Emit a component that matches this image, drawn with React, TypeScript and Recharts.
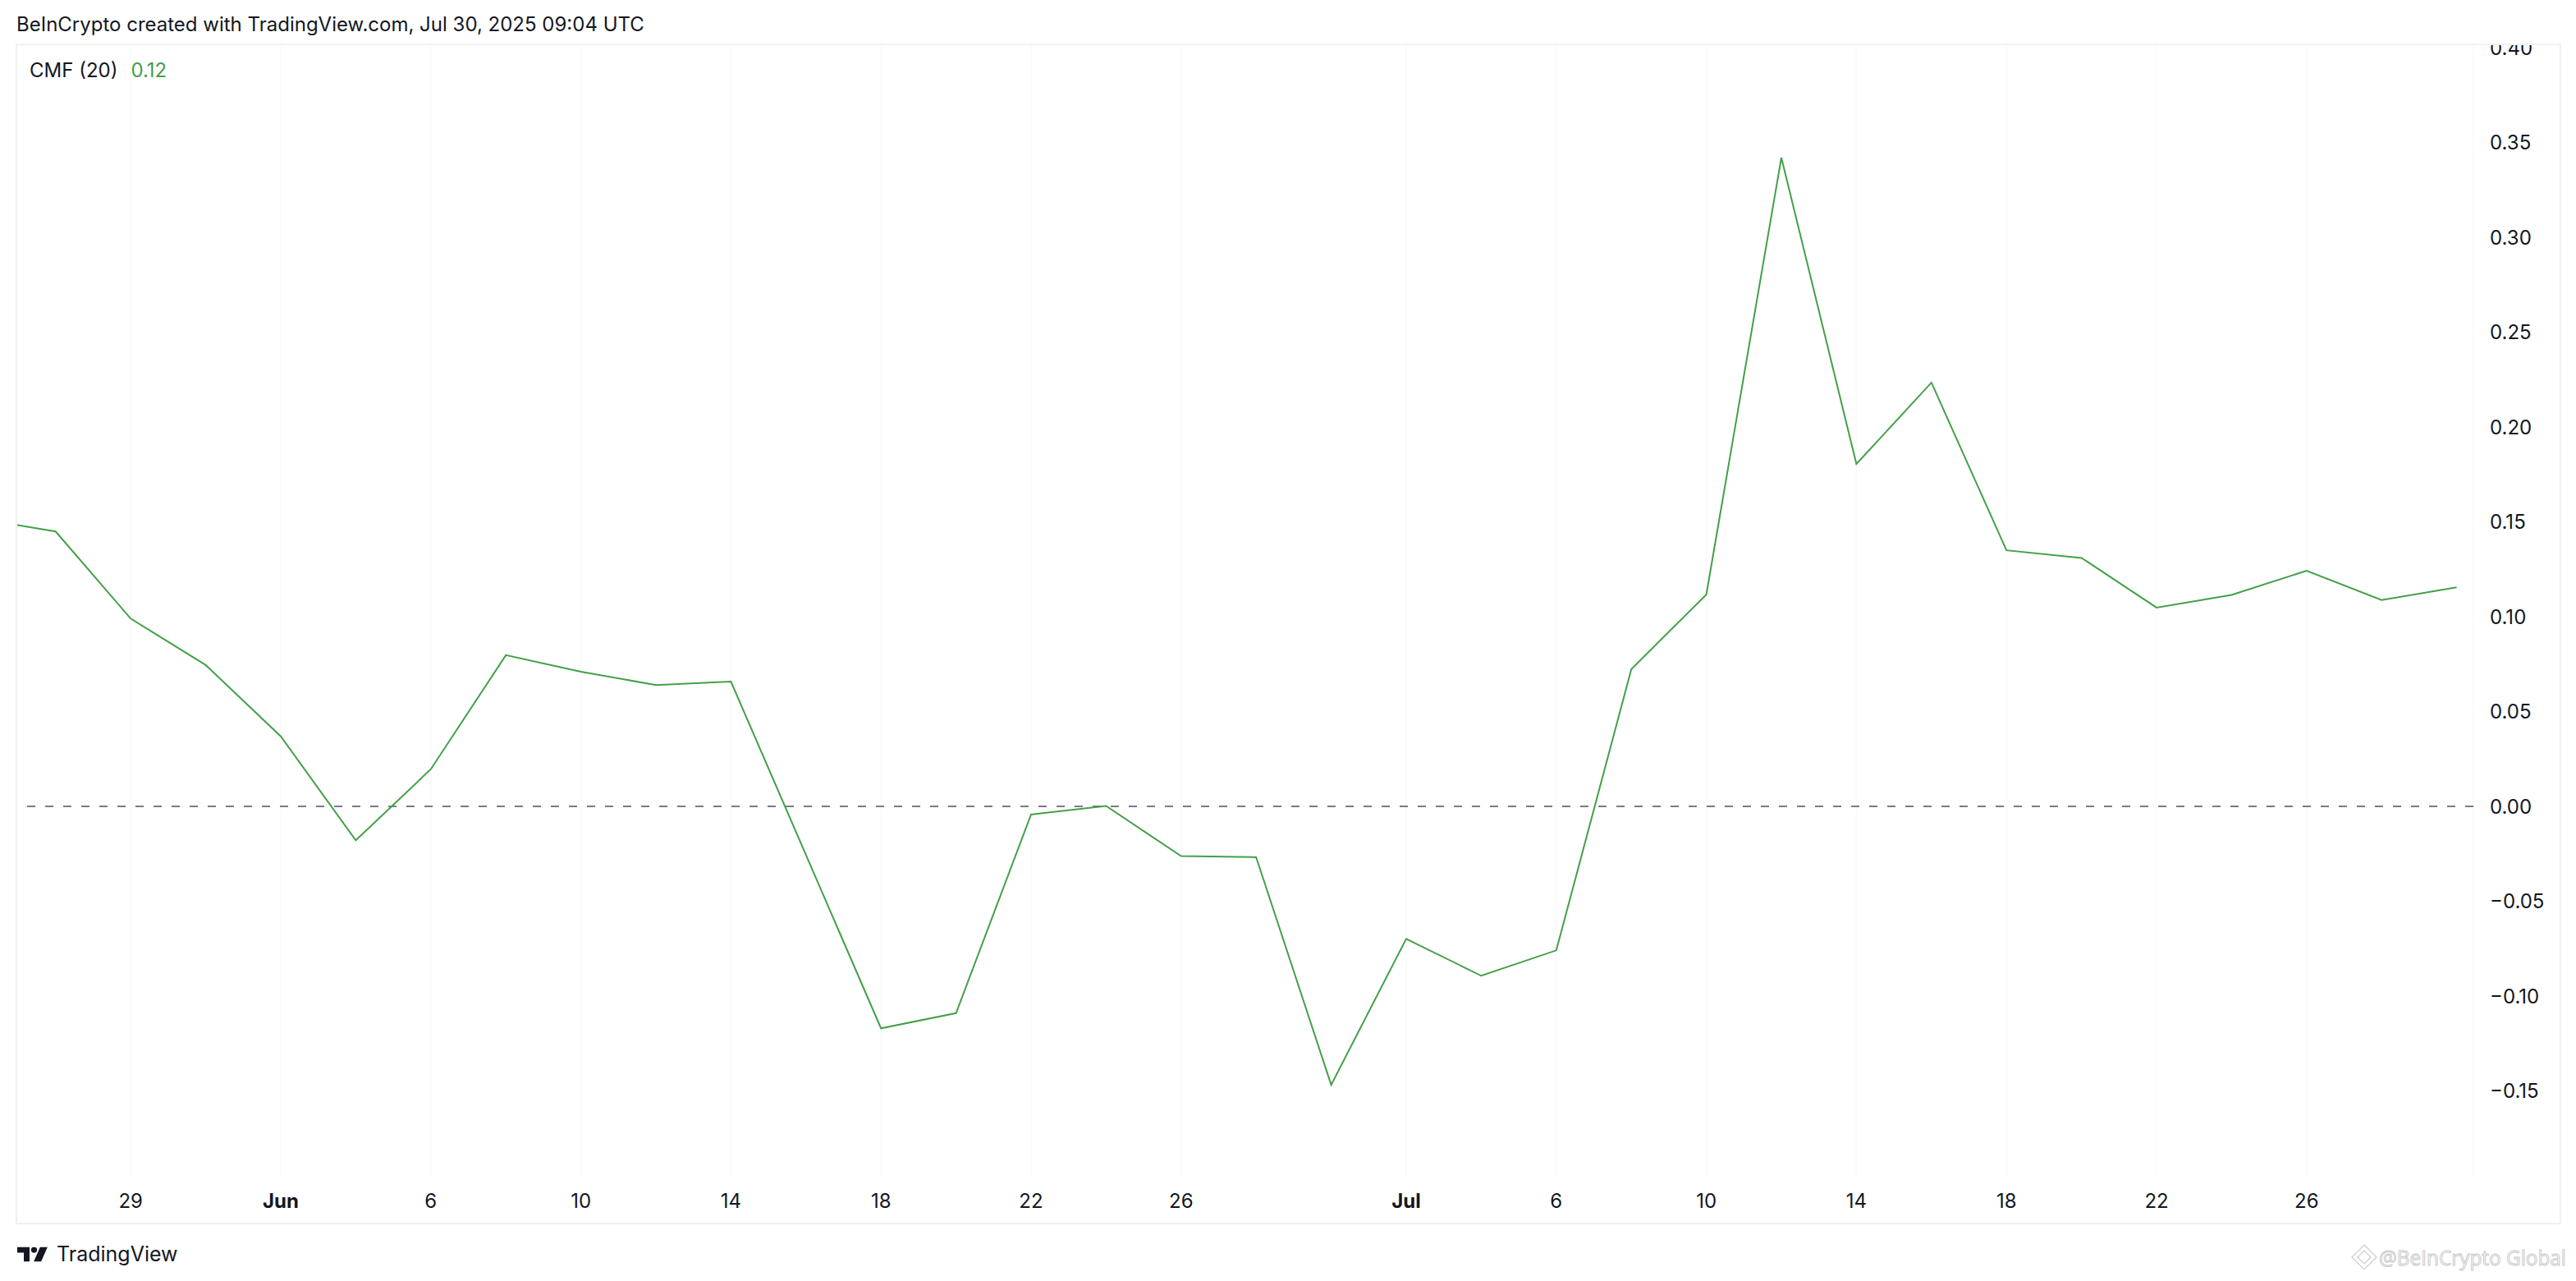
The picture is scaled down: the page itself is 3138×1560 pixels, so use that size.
import React from 'react';
import { LineChart, Line, XAxis, YAxis, ReferenceLine, CartesianGrid } from 'recharts';

// ---- data (2-day bars) ----
const barDates = [
  '2025-05-25', '2025-05-27', '2025-05-29', '2025-05-31', '2025-06-02', '2025-06-04',
  '2025-06-06', '2025-06-08', '2025-06-10', '2025-06-12', '2025-06-14', '2025-06-16',
  '2025-06-18', '2025-06-20', '2025-06-22', '2025-06-24', '2025-06-26', '2025-06-28',
  '2025-06-30', '2025-07-02', '2025-07-04', '2025-07-06', '2025-07-08', '2025-07-10',
  '2025-07-12', '2025-07-14', '2025-07-16', '2025-07-18', '2025-07-20', '2025-07-22',
  '2025-07-24', '2025-07-26', '2025-07-28', '2025-07-30',
];
const cmfValues = [
  0.1515, 0.1449, 0.099, 0.0745, 0.0369, -0.0179,
  0.0196, 0.0797, 0.071, 0.064, 0.0658, -0.0256,
  -0.117, -0.109, -0.0043, 0.0002, -0.0262, -0.0268,
  -0.1468, -0.0698, -0.0893, -0.0759, 0.0723, 0.1117,
  0.342, 0.1805, 0.2234, 0.135, 0.131, 0.1048,
  0.1115, 0.1242, 0.1088, 0.1155,
];
const xTickDates = [
  '2025-05-29', '2025-06-02', '2025-06-06', '2025-06-10', '2025-06-14', '2025-06-18',
  '2025-06-22', '2025-06-26', '2025-07-02', '2025-07-06', '2025-07-10', '2025-07-14',
  '2025-07-18', '2025-07-22', '2025-07-26',
];
const xTickLabels = ['29', 'Jun', '6', '10', '14', '18', '22', '26', 'Jul', '6', '10', '14', '18', '22', '26'];
const boldTickLabels = ['Jun', 'Jul'];
const yTicks = [-0.15, -0.1, -0.05, 0, 0.05, 0.1, 0.15, 0.2, 0.25, 0.3, 0.35, 0.4];

const headerText = 'BeInCrypto created with TradingView.com, Jul 30, 2025 09:04 UTC';
const seriesName = 'CMF (20)';
const lastValueLabel = '0.12';
const watermarkText = '@BeInCrypto Global';

// ---- helpers ----
const BASE = Date.UTC(2025, 4, 25);
const toDay = (s: string) => {
  const [y, m, d] = s.split('-').map(Number);
  return Math.round((Date.UTC(y, m - 1, d) - BASE) / 86400000);
};
const data = barDates.map((d, i) => ({ day: toDay(d), cmf: cmfValues[i] }));
const xTicks = xTickDates.map(toDay);
const labelFor = (day: number) => {
  const i = xTicks.indexOf(day);
  return i >= 0 ? xTickLabels[i] : '';
};

const FONT = 'Inter, Roboto, "Liberation Sans", sans-serif';
const TEXT = '#131722';
const GREEN = '#43a047';

const XTick = (props: any) => {
  const { x, y, payload } = props;
  const label = labelFor(payload.value);
  return (
    <text
      x={x}
      y={y + 37}
      textAnchor="middle"
      fill={TEXT}
      fontSize={24}
      fontFamily={FONT}
      fontWeight={boldTickLabels.includes(label) ? 700 : 400}
    >
      {label}
    </text>
  );
};

const YTick = (props: any) => {
  const { x, y, payload } = props;
  const v = payload.value as number;
  const s = (v < 0 ? '\u2212' : '') + Math.abs(v).toFixed(2);
  return (
    <text x={x + 20} y={y + 8.7} textAnchor="start" fill={TEXT} fontSize={24} fontFamily={FONT}>
      {s}
    </text>
  );
};

const TVLogo = () => (
  <svg width={40} height={18} viewBox="0 0 40 18" style={{ display: 'block' }}>
    <path d="M0 0 H15 V18 H8 V7 H0 Z" fill={TEXT} />
    <circle cx={20.5} cy={3.6} r={3.6} fill={TEXT} />
    <path d="M28 0 H37 L29 18 H20 Z" fill={TEXT} />
  </svg>
);

export default function App() {
  return (
    <div
      style={{
        position: 'absolute',
        left: 0,
        top: 0,
        width: 3138,
        height: 1560,
        background: '#ffffff',
        fontFamily: FONT,
        overflow: 'hidden',
      }}
    >
      {/* header */}
      <div
        style={{
          position: 'absolute',
          left: 20,
          top: 30,
          transform: 'translateY(-50%)',
          fontSize: 24,
          color: TEXT,
          whiteSpace: 'nowrap',
          lineHeight: 1,
        }}
      >
        {headerText}
      </div>

      {/* chart */}
      <div style={{ position: 'absolute', left: 20, top: 54, width: 3098, height: 1436, overflow: 'hidden' }}>
        <LineChart width={3098} height={1436} data={data} margin={{ top: 0, right: 0, bottom: 0, left: 0 }}>
          <CartesianGrid horizontal={false} vertical={true} stroke="#fafbfc" strokeWidth={2} />
          <XAxis
            type="number"
            dataKey="day"
            domain={[0.954, 66.446]}
            allowDataOverflow
            ticks={xTicks}
            interval={0}
            height={56}
            axisLine={false}
            tickLine={false}
            tickSize={0}
            tickMargin={0}
            tick={<XTick />}
          />
          <YAxis
            orientation="right"
            type="number"
            domain={[-0.19567, 0.40173]}
            allowDataOverflow
            ticks={yTicks}
            interval={0}
            width={105}
            axisLine={false}
            tickLine={false}
            tickSize={0}
            tickMargin={0}
            tick={<YTick />}
          />
          <ReferenceLine y={0} stroke="#787b86" strokeWidth={2} strokeDasharray="10 12" />
          <Line
            type="linear"
            dataKey="cmf"
            stroke={GREEN}
            strokeWidth={2}
            dot={false}
            activeDot={false}
            isAnimationActive={false}
          />
        </LineChart>
      </div>

      {/* frame border */}
      <div
        style={{
          position: 'absolute',
          left: 19,
          top: 53,
          width: 3101,
          height: 1438,
          boxSizing: 'border-box',
          border: '2px solid #f0f0f0',
          pointerEvents: 'none',
        }}
      />

      {/* legend */}
      <div
        style={{
          position: 'absolute',
          left: 36,
          top: 86,
          transform: 'translateY(-50%)',
          fontSize: 24,
          lineHeight: 1,
          whiteSpace: 'nowrap',
        }}
      >
        <span style={{ color: TEXT }}>{seriesName}</span>
        <span style={{ color: GREEN, marginLeft: 16 }}>{lastValueLabel}</span>
      </div>

      {/* TradingView logo */}
      <div
        style={{
          position: 'absolute',
          left: 21,
          top: 1527,
          transform: 'translateY(-50%)',
          display: 'flex',
          alignItems: 'center',
          gap: 8,
        }}
      >
        <TVLogo />
        <span style={{ fontSize: 25, color: TEXT, lineHeight: 1 }}>TradingView</span>
      </div>

      {/* watermark */}
      <svg style={{ position: 'absolute', left: 2856, top: 1512 }} width={282} height={42}>
        <g fill="none" stroke="#cccccc" strokeWidth={1.2}>
          <polygon points="24,4 39,19 24,34 9,19" />
          <polygon points="24,11 32,19 24,27 16,19" />
        </g>
        <text
          x={42}
          y={29}
          fontSize={25}
          textLength={228}
          lengthAdjust="spacingAndGlyphs"
          fontFamily='"Open Sans", Lato, sans-serif'
          fill="#ffffff"
          stroke="#c9c9c9"
          strokeWidth={1}
        >
          {watermarkText}
        </text>
      </svg>
    </div>
  );
}
